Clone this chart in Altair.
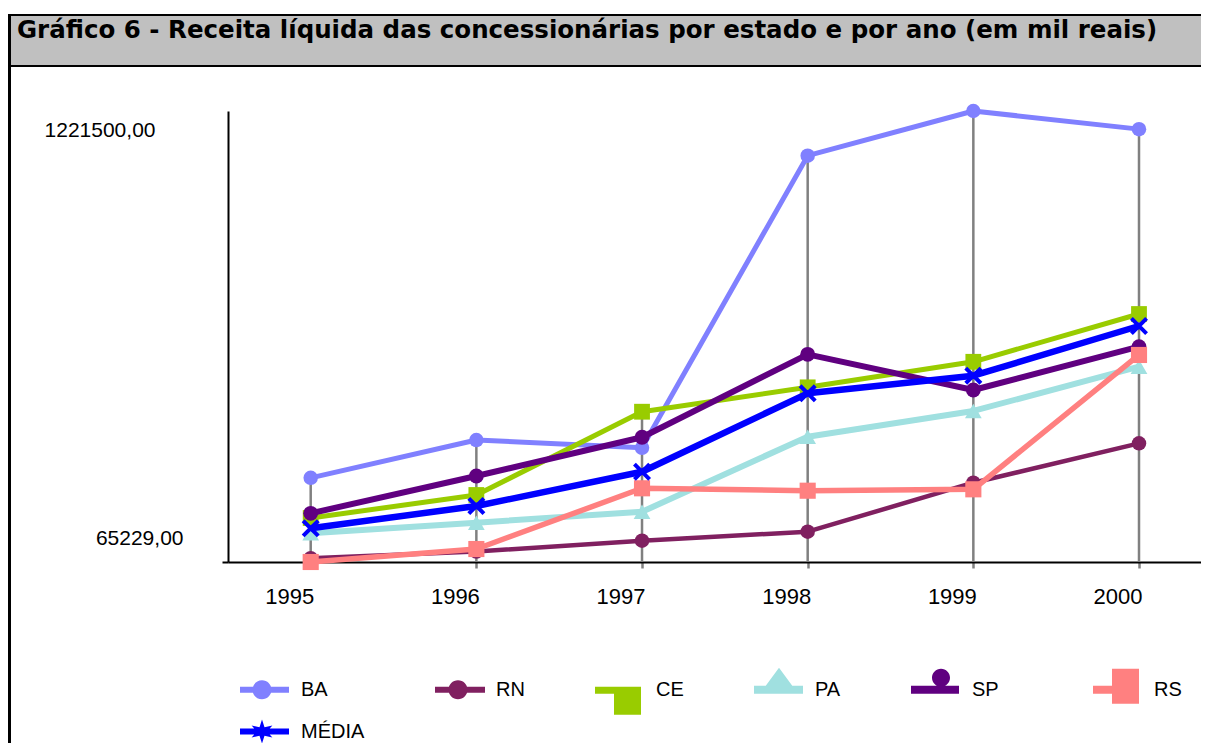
import math
import altair as alt
import pandas as pd

# ---------------- data ----------------
years = [1995, 1996, 1997, 1998, 1999, 2000]
series = ["BA", "RN", "CE", "PA", "SP", "RS", "MÉDIA"]
ba = [281000, 378000, 358000, 1107000, 1221500, 1175000]
rn = [75000, 92000, 120000, 143000, 268500, 369500]
ce = [178000, 237000, 450500, 513000, 578500, 701000]
pa = [139000, 166000, 194000, 386500, 452500, 566000]
sp = [190000, 285700, 385000, 597700, 506200, 617200]
rs = [65229, 98500, 254200, 248000, 251600, 596000]
media = [151600, 208800, 296700, 497700, 542900, 670300]
colors = ["#8080FF", "#802060", "#99CC00", "#A0E0E0", "#600080", "#FF8080", "#0000FF"]
y_ticks = [65229, 1221500]
title_text = "Gráfico 6 - Receita líquida das concessionárias por estado e por ano (em mil reais)"

values = [ba, rn, ce, pa, sp, rs, media]
rows = []
for s, vals in zip(series, values):
    for yr, v in zip(years, vals):
        rows.append({"serie": s, "ano": yr, "valor": v})
df = pd.DataFrame(rows)

FONT = "Arial, Liberation Sans, sans-serif"
W, H = 973, 451
PX_PER_YEAR = 165.66
X0 = 1995 - 82.7 / PX_PER_YEAR
X1 = X0 + W / PX_PER_YEAR

# ---------------- legend symbol paths (line + marker) ----------------
R = 12.5  # sqrt(symbolSize)/2


def P(x, y):
    return f"{(x - R) / R:.3f},{y / R:.3f}"


def rect(x0, x1, y0, y1):
    return f"M{P(x0, y0)}L{P(x1, y0)}L{P(x1, y1)}L{P(x0, y1)}Z"


def circ(cx, cy, r):
    rr = f"{r / R:.3f}"
    return (f"M{P(cx - r, cy)}A{rr},{rr} 0 1,1 {P(cx + r, cy)}"
            f"A{rr},{rr} 0 1,1 {P(cx - r, cy)}Z")


def tri(cx, top, base, hw):
    return f"M{P(cx, top)}L{P(cx + hw, base)}L{P(cx - hw, base)}Z"


def star(cx, cy, ro, ri, n=6):
    pts = []
    for k in range(2 * n):
        a = -math.pi / 2 + k * math.pi / n
        r = ro if k % 2 == 0 else ri
        pts.append(P(cx + r * math.cos(a), cy + r * math.sin(a)))
    return "M" + "L".join(pts) + "Z"


def dot(x, y):
    # zero-area sub-path: invisible, only widens the symbol bounds
    return f"M{P(x, y)}L{P(x, y)}Z"


EXT = dot(25, -22) + dot(25, 25)
legend_paths = [
    rect(0, 49, -3, 3) + circ(22, 0, 9.5) + EXT,
    rect(0, 50, -3, 3) + circ(23, 0, 9.5) + EXT,
    rect(0, 46, -3, 4) + rect(19, 46, -3, 25) + EXT,
    rect(0, 49, -4, 4) + tri(25, -22, -3, 14) + EXT,
    rect(0, 48, -4, 4) + circ(30, -12, 9) + EXT + dot(112, 0),
    rect(0, 46, -4, 4) + rect(19, 46, -21, 14) + EXT,
    rect(0, 49, -3, 3) + star(22, 0, 12, 5) + dot(25, -12) + dot(25, 12),
]

marker_shapes = ["circle", "circle", "square", "triangle-up", "circle", "square",
                 "M-1,-1L1,1M-1,1L1,-1"]
marker_sizes = [210, 210, 250, 280, 220, 260, 230]
line_widths = [5, 4.5, 5, 6, 6, 5.5, 6.5]

color_scale = alt.Scale(domain=series, range=colors)

x_enc = alt.X(
    "ano:Q",
    scale=alt.Scale(domain=[X0, X1], nice=False, zero=False),
    axis=alt.Axis(
        values=years, format="d", title=None, grid=False,
        domainColor="black", domainWidth=2,
        tickColor="#808080", tickSize=6, tickWidth=2.5,
        labelAlign="right", labelBaseline="top", labelPadding=18, labelOffset=3,
        labelFont=FONT, labelFontSize=22, labelColor="black",
    ),
)
y_enc = alt.Y(
    "valor:Q",
    scale=alt.Scale(domain=[y_ticks[0], y_ticks[-1]], nice=False, zero=False),
    axis=alt.Axis(
        values=y_ticks, title=None, grid=False,
        domainColor="black", domainWidth=2,
        tickColor={"condition": {"test": "datum.value > 600000", "value": "transparent"},
                   "value": "black"},
        tickSize=6, tickWidth=2,
        labelExpr="replace(format(datum.value, '.2f'), '.', ',')",
        labelFont=FONT, labelFontSize=21, labelColor="black",
        labelBaseline="middle",
        labelPadding={"condition": {"test": "datum.value > 600000", "value": 67},
                      "value": 39},
        labelOffset={"condition": {"test": "datum.value > 600000", "value": 19},
                     "value": -24},
    ),
)

layers = []

# legend-only layer (first, so its legend settings win when merged)
leg = alt.Legend(
    title=None, orient="none", legendX=12, legendY=566, direction="horizontal",
    columns=6, gridAlign="each", columnPadding=70, rowPadding=4,
    symbolSize=625, symbolStrokeWidth=0, symbolOpacity=1,
    labelFont=FONT, labelFontSize=20, labelColor="black", labelOffset=36,
)
layers.append(
    alt.Chart(df).transform_filter("false").mark_point(filled=True, opacity=1).encode(
        x=x_enc, y=y_enc,
        color=alt.Color("serie:N", scale=color_scale, legend=leg),
        shape=alt.Shape("serie:N", scale=alt.Scale(domain=series, range=legend_paths),
                        legend=leg),
    )
)

# title bar and frame
deco = alt.Data(values=[{}])
layers.append(
    alt.Chart(deco).mark_rect(fill="#C0C0C0", stroke="black", strokeWidth=2).encode(
        x=alt.value(-219), x2=alt.value(990), y=alt.value(-96), y2=alt.value(-45)
    )
)
layers.append(
    alt.Chart(deco).mark_rule(color="black", strokeWidth=3).encode(
        x=alt.value(-218.5), y=alt.value(-96), y2=alt.value(640)
    )
)
layers.append(
    alt.Chart(deco).mark_text(
        align="left", baseline="alphabetic", font="DejaVu Sans", fontSize=24.5,
        fontWeight="bold", color="black"
    ).encode(x=alt.value(-211), y=alt.value(-73), text=alt.value(title_text))
)

# drop lines
layers.append(
    alt.Chart(df).transform_aggregate(top="max(valor)", groupby=["ano"]).mark_rule(
        color="#808080", strokeWidth=2.5
    ).encode(x=alt.X("ano:Q"), y=alt.Y("top:Q"), y2=alt.datum(y_ticks[0]))
)

# series: line then markers
for i, s in enumerate(series):
    base = alt.Chart(df).transform_filter(alt.datum.serie == s)
    layers.append(
        base.mark_line(strokeWidth=line_widths[i], strokeJoin="round").encode(
            x="ano:Q", y="valor:Q",
            color=alt.Color("serie:N", scale=color_scale, legend=None),
        )
    )
    filled = not marker_shapes[i].startswith("M")
    layers.append(
        base.mark_point(
            shape=marker_shapes[i], size=marker_sizes[i], filled=filled, opacity=1,
            strokeWidth=0 if filled else 4,
        ).encode(
            x="ano:Q", y="valor:Q",
            color=alt.Color("serie:N", scale=color_scale, legend=None),
        )
    )

chart = alt.layer(*layers).properties(
    width=W, height=H,
    autosize=alt.AutoSizeParams(type="none"),
    padding={"left": 220, "top": 103, "right": 0, "bottom": 181},
    background="white",
).configure_view(stroke=None)

chart.save("out.html", embed_options={"renderer": "svg", "actions": False})
